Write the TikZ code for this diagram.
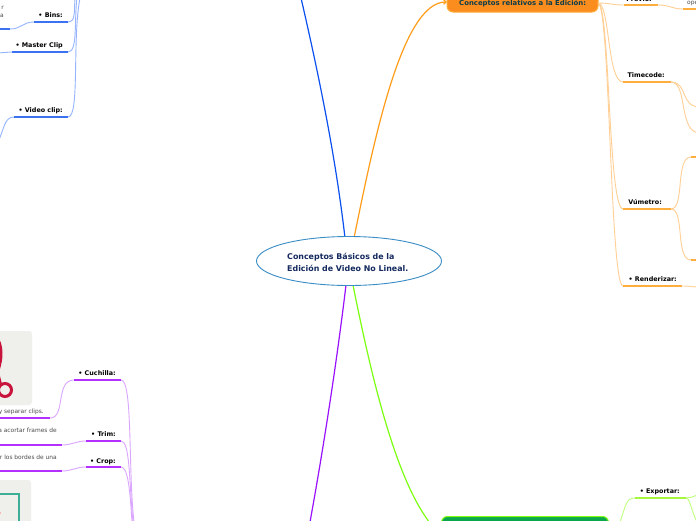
\documentclass[tikz,border=0pt]{standalone}
\usepackage{fontspec}
\usetikzlibrary{shapes.geometric,arrows.meta}
\setmainfont{DejaVu Sans}
\definecolor{bluemain}{HTML}{0A50F0}
\definecolor{blueul}{HTML}{3C72F2}
\definecolor{bluethin}{HTML}{96B4FF}
\definecolor{orangemain}{HTML}{FF9C18}
\definecolor{orangeul}{HTML}{FFAD3C}
\definecolor{orangethin}{HTML}{FFCF94}
\definecolor{orangefill}{HTML}{FB8C1E}
\definecolor{purplemain}{HTML}{9A10FF}
\definecolor{purpleul}{HTML}{B430FF}
\definecolor{purplethin}{HTML}{DBA6FF}
\definecolor{greenmain}{HTML}{7CFF10}
\definecolor{greenul}{HTML}{A6F83E}
\definecolor{greenthin}{HTML}{BEFF7C}
\definecolor{greenfill}{HTML}{0AA64C}
\definecolor{navy}{HTML}{14295E}
\definecolor{tealdark}{HTML}{0B3D4A}
\definecolor{imgbg}{HTML}{EFEFEB}
\definecolor{scissor}{HTML}{C8143C}
\definecolor{cropteal}{HTML}{3FAE97}
\definecolor{rootedge}{HTML}{3A8CC4}
\tikzset{
  lab/.style={font=\fontsize{6.4}{8}\selectfont\bfseries,text=black,inner sep=0pt,anchor=base east},
  small/.style={font=\fontsize{5.9}{7}\selectfont,text=black!70,inner sep=0pt,anchor=base west},
  smallr/.style={small,anchor=base east},
  mainline/.style={line width=1.2pt},
  ul/.style={line width=1.6pt},
  thinl/.style={line width=0.9pt},
}
\begin{document}
\begin{tikzpicture}[x=1pt,y=-1pt]
\clip (0,0) rectangle (696,520);
\fill[white] (0,0) rectangle (696,520);

% image panels
\fill[imgbg,rounded corners=3pt] (-10,331) rectangle (32,405);
\fill[imgbg,rounded corners=3pt] (-10,480) rectangle (31,530);
% scissors
\draw[scissor,line width=3pt] (5,390) circle (6.5);
\fill[scissor] (-3,335) .. controls (4,345) and (4,358) .. (-1,372) -- (2,384) -- (-1,386) -- (-4,372) -- cycle;
% crop frame
\draw[cropteal,line width=2.4pt] (-5,494) -- (19,494) -- (19,525);
\fill[pink!70!red] (0,513) circle (0.8);

% main branches
\coordinate (bluetop) at (301,-2);
\coordinate (blueroot) at (345,238);
\coordinate (purplebot) at (310,522);
\coordinate (purpleroot) at (346,285);
\coordinate (orroot) at (354,238);
\coordinate (greenroot) at (353,285);
\draw[bluemain,mainline] (blueroot) .. controls (336,160) and (320,80) .. (bluetop);
\draw[purplemain,mainline] (purpleroot) .. controls (337,360) and (324,445) .. (purplebot);

% orange box
\node[rounded corners=6pt,fill=orangefill,draw=orangeul,line width=1pt,minimum width=151pt,minimum height=26pt,inner sep=0pt] (orbox) at (522.5,-1) {};
\node[inner sep=0pt,anchor=base west,font=\fontsize{6.9}{8}\selectfont\bfseries,text=tealdark] (ortext) at (459,5) {Conceptos relativos a la Edición:};
\coordinate (orin) at (447,2);
\draw[orangemain,mainline,-{Straight Barb[length=2.5pt,width=4.5pt]}] (orroot) .. controls (374,140) and (402,2) .. (orin);

% green box
\node[rounded corners=6pt,fill=greenfill,draw=greenmain,line width=1pt,minimum width=167pt,minimum height=24pt,inner sep=0pt,anchor=north west] (grbox) at (441,516) {};
\coordinate (grtop) at (436,530);
\draw[greenmain,mainline] (greenroot) .. controls (372,380) and (398,490) .. (grtop);

% ORANGE subtree
\coordinate (orR) at (598,3);
\coordinate (a1) at (624,5); \coordinate (a2) at (658,5);
\coordinate (a3) at (683,9); \coordinate (a4) at (700,9);
\coordinate (t1) at (623,82); \coordinate (t2) at (671,82);
\coordinate (t3) at (700,107); \coordinate (t4) at (700,133);
\coordinate (v1) at (623,209); \coordinate (v2) at (671,209);
\coordinate (v3) at (691,157); \coordinate (v4) at (700,157);
\coordinate (v5) at (691,260); \coordinate (v6) at (700,260);
\coordinate (r1) at (623,286); \coordinate (r2) at (682,286); \coordinate (r3) at (700,287);
\draw[orangethin,thinl] (orR) .. controls (610,3) and (612,5) .. (a1);
\draw[orangethin,thinl] (orR) .. controls (610,3) and (607,82) .. (t1);
\draw[orangethin,thinl] (orR) .. controls (610,3) and (608,209) .. (v1);
\draw[orangethin,thinl] (orR) .. controls (610,3) and (610,286) .. (r1);
\draw[orangeul,ul] (a1) -- (a2);
\draw[orangeul,ul] (a3) -- (a4);
\draw[orangeul,ul] (t1) -- (t2);
\draw[orangeul,ul] (v1) -- (v2);
\draw[orangeul,ul] (v3) -- (v4);
\draw[orangeul,ul] (v5) -- (v6);
\draw[orangeul,ul] (r1) -- (r2);
\draw[orangethin,thinl] (a2) .. controls (670,5) and (672,9) .. (a3);
\draw[orangethin,thinl] (t2) .. controls (688,82) and (680,107) .. (t3);
\draw[orangethin,thinl] (t2) .. controls (688,82) and (678,133) .. (t4);
\draw[orangethin,thinl] (v2) .. controls (685,209) and (675,157) .. (v3);
\draw[orangethin,thinl] (v2) .. controls (685,209) and (675,260) .. (v5);
\draw[orangethin,thinl] (r2) .. controls (690,286) and (692,287) .. (r3);
\node[lab] (previo) at (652,1) {Previo:};
\node[lab] (timecode) at (665,77) {Timecode:};
\node[lab] (vumetro) at (662,204) {Vúmetro:};
\node[lab] (render) at (677,281) {• Renderizar:};
\node[small] (ope) at (687,4) {ope};

% BLUE subtree
\coordinate (b1) at (34,22); \coordinate (b2) at (68,22);
\coordinate (b0) at (10,29); \coordinate (b00) at (-3,29);
\coordinate (m1) at (12,52); \coordinate (m2) at (68,52); \coordinate (m0) at (-3,53);
\coordinate (c1) at (14,117); \coordinate (c2) at (68,117); \coordinate (c0) at (-2,142);
\coordinate (bt1) at (75,-2); \coordinate (bt2) at (77,-2); \coordinate (bt3) at (80,-2);
\draw[bluethin,thinl] (b2) .. controls (76,22) and (74,10) .. (bt1);
\draw[bluethin,thinl] (m2) .. controls (78,52) and (74,20) .. (bt2);
\draw[bluethin,thinl] (c2) .. controls (80,117) and (72,40) .. (bt3);
\draw[bluethin,thinl] (b0) .. controls (22,29) and (22,22) .. (b1);
\draw[bluethin,thinl] (m0) .. controls (5,53) and (5,52) .. (m1);
\draw[bluethin,thinl] (c1) .. controls (4,117) and (4,130) .. (c0);
\draw[blueul,ul] (b1) -- (b2);
\draw[blueul,ul] (m1) -- (m2);
\draw[blueul,ul] (c1) -- (c2);
\draw[blueul,ul] (b00) -- (b0);
\node[lab] (bins) at (63,17) {• Bins:};
\node[lab] (master) at (63,47) {• Master Clip};
\node[lab] (video) at (63,112) {• Video clip:};
\node[smallr] (tr) at (4,9) {r};
\node[smallr] (tl) at (4,17) {la};

% PURPLE subtree
\coordinate (p1) at (74,380); \coordinate (p2) at (121,380);
\coordinate (p3) at (50,418); \coordinate (p0) at (-3,418);
\coordinate (q1) at (86,441); \coordinate (q2) at (121,441);
\coordinate (q3) at (62,445); \coordinate (q0) at (-3,445);
\coordinate (w1) at (86,467); \coordinate (w2) at (121,467);
\coordinate (w3) at (62,471); \coordinate (w0) at (-3,471);
\coordinate (pb1) at (132,522); \coordinate (pb2) at (133,522); \coordinate (pb3) at (134,522);
\draw[purplethin,thinl] (p2) .. controls (133,380) and (128,470) .. (pb3);
\draw[purplethin,thinl] (q2) .. controls (130,441) and (129,480) .. (pb2);
\draw[purplethin,thinl] (w2) .. controls (128,467) and (130,490) .. (pb1);
\draw[purplethin,thinl] (p3) .. controls (66,418) and (55,380) .. (p1);
\draw[purplethin,thinl] (q3) .. controls (72,445) and (76,441) .. (q1);
\draw[purplethin,thinl] (w3) .. controls (72,471) and (76,467) .. (w1);
\draw[purpleul,ul] (p1) -- (p2);
\draw[purpleul,ul] (q1) -- (q2);
\draw[purpleul,ul] (w1) -- (w2);
\draw[purpleul,ul] (p0) -- (p3);
\draw[purpleul,ul] (q0) -- (q3);
\draw[purpleul,ul] (w0) -- (w3);
\node[lab] (cuchilla) at (116,375) {• Cuchilla:};
\node[lab] (trim) at (116,436) {• Trim:};
\node[lab] (crop) at (116,463) {• Crop:};
\node[smallr] (sep) at (44,413) {y separar clips.};
\node[smallr] (aco) at (57,432) {a acortar frames de};
\node[smallr] (bor) at (57,459) {r los bordes de una};

% GREEN subtree
\coordinate (g1) at (635,498); \coordinate (g2) at (686,498);
\coordinate (g3) at (620,522); \coordinate (g4) at (700,494); \coordinate (g5) at (697,522);
\draw[greenthin,thinl] (g3) .. controls (626,505) and (626,498) .. (g1);
\draw[greenthin,thinl] (g2) .. controls (690,498) and (692,497) .. (g4);
\draw[greenthin,thinl] (g2) .. controls (690,498) and (691,510) .. (g5);
\draw[greenul,ul] (g1) -- (g2);
\node[lab] (exportar) at (680,493) {• Exportar:};

% central ellipse drawn on top
\node[ellipse,draw=rootedge,fill=white,line width=0.9pt,minimum width=185pt,minimum height=49pt,inner sep=0pt] (root) at (349,261) {};
\node[align=left,anchor=west,inner sep=0pt,text=navy,font=\fontsize{7.9}{12}\selectfont\bfseries] (rootlabel) at (287,262) {Conceptos Básicos de la\\Edición de Video No Lineal.};
\end{tikzpicture}
\end{document}
